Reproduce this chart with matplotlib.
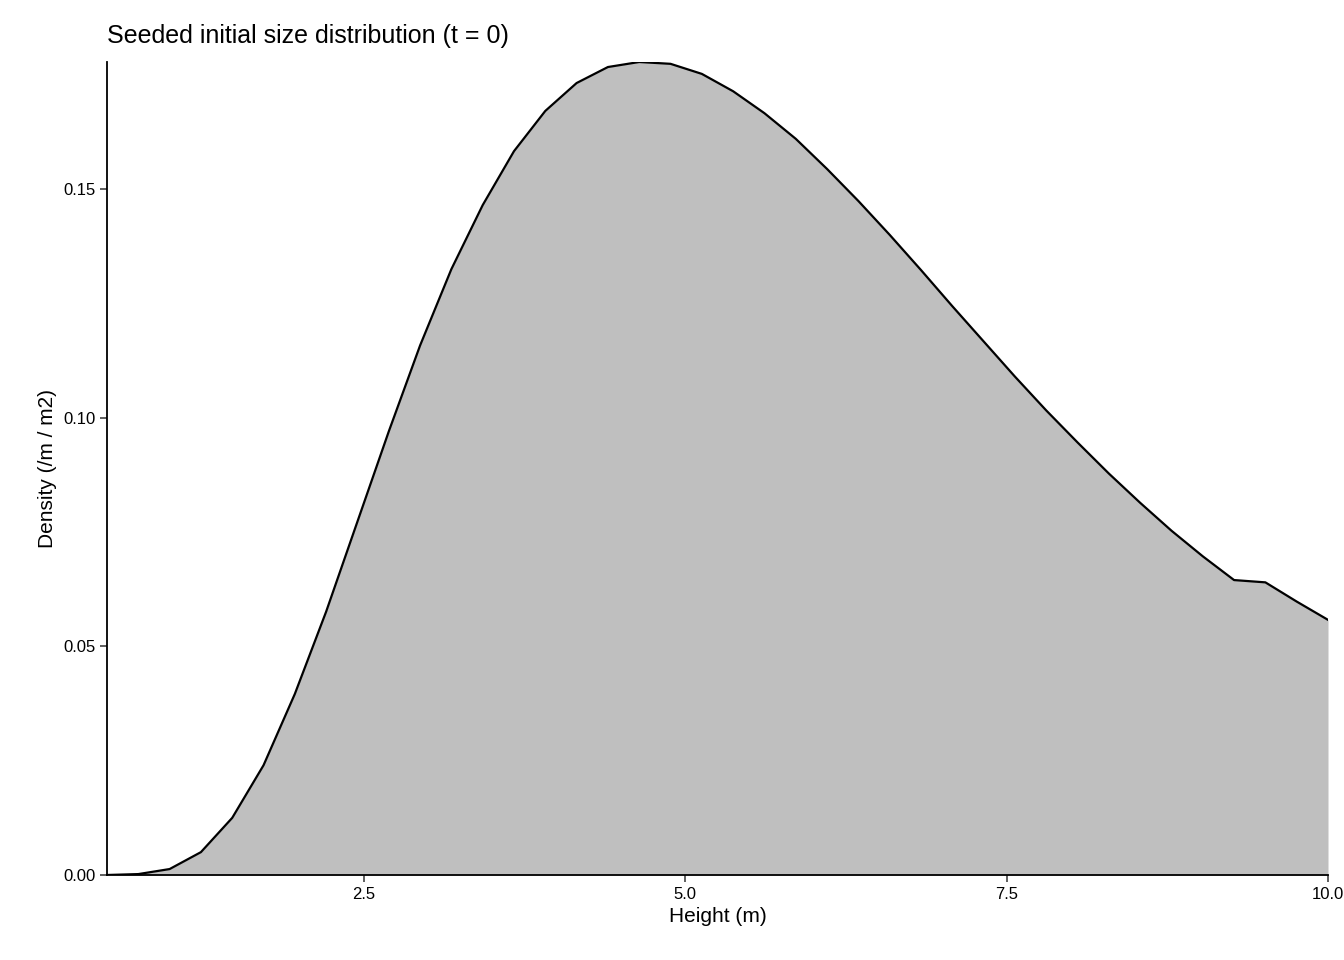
import numpy as np
import matplotlib.pyplot as plt

plt.rcParams['font.family'] = ['Liberation Sans', 'DejaVu Sans']

height = np.linspace(0.5, 10.0, 40)
density = [0.0, 0.0002, 0.0013, 0.005, 0.0125, 0.024, 0.0396, 0.0576, 0.0773, 0.097,
           0.1158, 0.1325, 0.1465, 0.1583, 0.1671, 0.1732, 0.1767, 0.1778, 0.1774, 0.1752,
           0.1714, 0.1666, 0.161, 0.1544, 0.1474, 0.14, 0.1323, 0.1244, 0.1167, 0.109,
           0.1016, 0.0946, 0.0878, 0.0814, 0.0753, 0.0697, 0.0645, 0.0598, 0.0577, 0.0558]
density[-3:] = [0.0640, 0.0598, 0.0558]

fig = plt.figure(figsize=(13.44, 9.6), dpi=100)
ax = fig.add_axes([107 / 1344, 1 - 875 / 960, (1328 - 107) / 1344, (875 - 62) / 960])
ax.fill_between(height, density, 0, color='#BFBFBF', linewidth=0)
ax.plot(height, density, color='black', linewidth=1.6)

ax.set_xlim(height[0], 10.0)
ax.set_ylim(0, max(density))
ax.set_xticks([2.5, 5.0, 7.5, 10.0])
ax.set_xticklabels(['2.5', '5.0', '7.5', '10.0'])
ax.set_yticks([0, 0.05, 0.10, 0.15])
ax.set_yticklabels(['0.00', '0.05', '0.10', '0.15'])
ax.tick_params(labelsize=12, length=5, width=1.1, color='#333333')
for s in ['top', 'right']:
    ax.spines[s].set_visible(False)
for s in ['left', 'bottom']:
    ax.spines[s].set_linewidth(1.3)

ax.set_xlabel('Height (m)', fontsize=15)
ax.set_ylabel('Density (/m / m2)', fontsize=15)
ax.set_title('Seeded initial size distribution (t = 0)', fontsize=18, loc='left', pad=14)

fig.savefig('out.png')
